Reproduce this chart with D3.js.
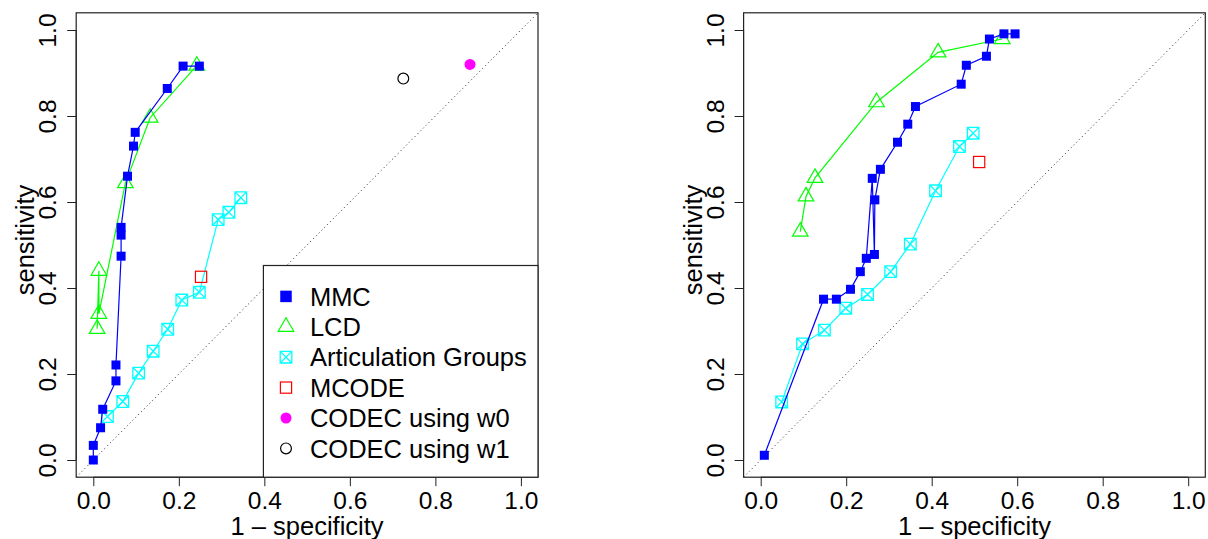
<!DOCTYPE html>
<html>
<head>
<meta charset="utf-8">
<script src="https://cdn.jsdelivr.net/npm/d3@7"></script>
<style>
  body { margin: 0; background: #fff; }
  svg { display: block; font-family: "Liberation Sans", Arial, sans-serif; }
</style>
</head>
<body>
<div id="chart"></div>
<script>
// ---- data ----
const tickValues = [0, 0.2, 0.4, 0.6, 0.8, 1.0]

// left panel
const mmcLeftX = [0, 0, 0.017, 0.022, 0.053, 0.053, 0.065, 0.065, 0.065, 0.08, 0.094, 0.098, 0.173, 0.21, 0.248]
const mmcLeftY = [0, 0.034, 0.075, 0.118, 0.184, 0.221, 0.474, 0.523, 0.541, 0.66, 0.73, 0.762, 0.864, 0.916, 0.916]
const lcdLeftX = [0.009, 0.013, 0.013, 0.075, 0.133, 0.242]
const lcdLeftY = [0.305, 0.44, 0.34, 0.644, 0.796, 0.917]
const agLeftX = [0.033, 0.069, 0.106, 0.14, 0.174, 0.207, 0.248, 0.292, 0.317, 0.345]
const agLeftY = [0.101, 0.136, 0.202, 0.253, 0.304, 0.372, 0.39, 0.559, 0.576, 0.61]
const mcodeLeft = [[0.252, 0.426]]
const codecW0 = [[0.881, 0.92]]
const codecW1 = [[0.725, 0.887]]

// right panel
const mmcRightX = [0.0085, 0.147, 0.177, 0.21, 0.233, 0.247, 0.261, 0.266, 0.267, 0.28, 0.32, 0.344, 0.362, 0.469, 0.481, 0.528, 0.535, 0.569, 0.595]
const mmcRightY = [0.011, 0.374, 0.374, 0.397, 0.438, 0.469, 0.655, 0.478, 0.605, 0.676, 0.739, 0.781, 0.822, 0.874, 0.918, 0.939, 0.979, 0.991, 0.991]
const lcdRightX = [0.0926, 0.106, 0.127, 0.271, 0.415, 0.565]
const lcdRightY = [0.531, 0.613, 0.656, 0.832, 0.948, 0.979]
const agRightX = [0.049, 0.098, 0.149, 0.199, 0.25, 0.304, 0.35, 0.409, 0.465, 0.497]
const agRightY = [0.135, 0.27, 0.302, 0.353, 0.385, 0.438, 0.502, 0.626, 0.729, 0.76]
const mcodeRight = [[0.511, 0.693]]

const legendLabels = ['MMC', 'LCD', 'Articulation Groups', 'MCODE', 'CODEC using w0', 'CODEC using w1']
const legendKinds = ['mmc', 'lcd', 'ag', 'mcode', 'w0', 'w1']

const zip = (xs, ys) => xs.map((x, i) => [x, ys[i]])

const width = 1208
const height = 539
const tickFont = 24.5
const labelFont = 25.5

const svg = d3.select('#chart')
  .append('svg')
  .attr('width', width)
  .attr('height', height)

svg.append('rect').attr('width', width).attr('height', height).attr('fill', 'white')

// marker drawing helpers
function drawMarker(g, kind, big) {
  if (kind === 'mmc') {
    const s = big ? 11.5 : 9
    g.append('rect').attr('x', -s / 2).attr('y', -s / 2).attr('width', s).attr('height', s)
      .attr('fill', '#0000ff')
  } else if (kind === 'lcd') {
    const r = 9
    g.append('path')
      .attr('d', `M0,${-r}L${r * 0.866},${r / 2}L${-r * 0.866},${r / 2}Z`)
      .attr('fill', 'none').attr('stroke', '#00ff00').attr('stroke-width', 1.2)
  } else if (kind === 'ag') {
    const h = 5.8
    g.append('path')
      .attr('d', `M${-h},${-h}H${h}V${h}H${-h}Z M${-h},${-h}L${h},${h} M${h},${-h}L${-h},${h}`)
      .attr('fill', 'none').attr('stroke', '#00ffff').attr('stroke-width', 1.3)
  } else if (kind === 'mcode') {
    const h = 5.6
    g.append('rect').attr('x', -h).attr('y', -h).attr('width', 2 * h).attr('height', 2 * h)
      .attr('fill', 'none').attr('stroke', '#ff0000').attr('stroke-width', 1.2)
  } else if (kind === 'w0') {
    g.append('circle').attr('r', 5.5).attr('fill', '#ff00ff')
  } else if (kind === 'w1') {
    g.append('circle').attr('r', 5.4).attr('fill', 'none').attr('stroke', 'black').attr('stroke-width', 1.2)
  }
}

function panel(opts) {
  const x = d3.scaleLinear().domain([-0.04, 1.04]).range([opts.left, opts.right])
  const y = d3.scaleLinear().domain([-0.04, 1.04]).range([477.2, 12.8])

  const g = svg.append('g')
  const clipId = 'clip-' + opts.name
  g.append('clipPath').attr('id', clipId)
    .append('rect')
    .attr('x', x(-0.04)).attr('y', y(1.04))
    .attr('width', x(1.04) - x(-0.04)).attr('height', y(-0.04) - y(1.04))

  // diagonal reference line
  g.append('line')
    .attr('clip-path', `url(#${clipId})`)
    .attr('x1', x(-0.04)).attr('y1', y(-0.04))
    .attr('x2', x(1.04)).attr('y2', y(1.04))
    .attr('stroke', '#222').attr('stroke-width', 1)
    .attr('stroke-dasharray', '1,3')

  // axes
  const xAxis = g.append('g')
    .attr('transform', `translate(0,${y(-0.04)})`)
    .call(d3.axisBottom(x).tickValues(tickValues).tickFormat(d3.format('.1f')).tickSize(9).tickSizeOuter(0))
  xAxis.select('.domain').attr('d', `M${x(0)},0H${x(1)}`)
  xAxis.selectAll('text').attr('y', 32).attr('dy', 0)

  const yAxis = g.append('g')
    .attr('transform', `translate(${x(-0.04)},0)`)
    .call(d3.axisLeft(y).tickValues(tickValues).tickFormat(d3.format('.1f')).tickSize(9).tickSizeOuter(0))
  yAxis.select('.domain').attr('d', `M0,${y(0)}V${y(1)}`)
  yAxis.selectAll('text')
    .attr('x', 0).attr('dy', 0)
    .attr('text-anchor', 'middle')
    .attr('transform', 'translate(-20,0) rotate(-90)')

  g.selectAll('.tick line, .domain').attr('stroke', '#222')
  g.selectAll('.tick text').attr('font-size', tickFont).attr('font-family', 'Liberation Sans, Arial, sans-serif').attr('fill', 'black')

  // box
  g.append('rect')
    .attr('x', x(-0.04)).attr('y', y(1.04))
    .attr('width', x(1.04) - x(-0.04)).attr('height', y(-0.04) - y(1.04))
    .attr('fill', 'none').attr('stroke', '#222').attr('stroke-width', 1.2)

  // axis titles
  g.append('text')
    .attr('x', (x(-0.04) + x(1.04)) / 2).attr('y', 535)
    .attr('text-anchor', 'middle').attr('font-size', labelFont)
    .text('1 \u2013 specificity')
  g.append('text')
    .attr('transform', `translate(${x(-0.04) - 42},${(y(-0.04) + y(1.04)) / 2 - 5}) rotate(-90)`)
    .attr('text-anchor', 'middle').attr('font-size', labelFont)
    .text('sensitivity')

  if (opts.legend) {
    const lx = 263.4
    const ly = 265.5
    const lg = g.append('g')
    lg.append('rect')
      .attr('x', lx).attr('y', ly)
      .attr('width', x(1.04) - lx).attr('height', y(-0.04) - ly)
      .attr('fill', 'white').attr('stroke', '#222').attr('stroke-width', 1.2)
    legendLabels.forEach((lab, i) => {
      const cy = 296.4 + i * 30.4
      drawMarker(lg.append('g').attr('transform', `translate(${lx + 22.6},${cy})`), legendKinds[i], true)
      lg.append('text')
        .attr('x', lx + 46.5).attr('y', cy).attr('dy', '0.36em')
        .attr('font-size', labelFont)
        .text(lab)
    })
  }

  const line = d3.line().x(d => x(d[0])).y(d => y(d[1]))
  const series = [
    { kind: 'ag', color: '#00ffff', pts: opts.ag },
    { kind: 'lcd', color: '#00ff00', pts: opts.lcd },
    { kind: 'mmc', color: '#0000ff', pts: opts.mmc }
  ]
  series.forEach(s => {
    g.append('path').datum(s.pts)
      .attr('d', line)
      .attr('fill', 'none').attr('stroke', s.color).attr('stroke-width', 1.2)
    g.selectAll(null).data(s.pts).enter()
      .append('g')
      .attr('transform', d => `translate(${x(d[0])},${y(d[1])})`)
      .each(function () { drawMarker(d3.select(this), s.kind, false) })
  })

  const singles = [['mcode', opts.mcode || []], ['w0', opts.w0 || []], ['w1', opts.w1 || []]]
  singles.forEach(([kind, pts]) => {
    g.selectAll(null).data(pts).enter()
      .append('g')
      .attr('transform', d => `translate(${x(d[0])},${y(d[1])})`)
      .each(function () { drawMarker(d3.select(this), kind, false) })
  })
}

panel({
  name: 'left', left: 76.2, right: 538,
  mmc: zip(mmcLeftX, mmcLeftY), lcd: zip(lcdLeftX, lcdLeftY), ag: zip(agLeftX, agLeftY),
  mcode: mcodeLeft, w0: codecW0, w1: codecW1, legend: true
})

panel({
  name: 'right', left: 743.6, right: 1205.3,
  mmc: zip(mmcRightX, mmcRightY), lcd: zip(lcdRightX, lcdRightY), ag: zip(agRightX, agRightY),
  mcode: mcodeRight, legend: false
})
</script>
</body>
</html>
